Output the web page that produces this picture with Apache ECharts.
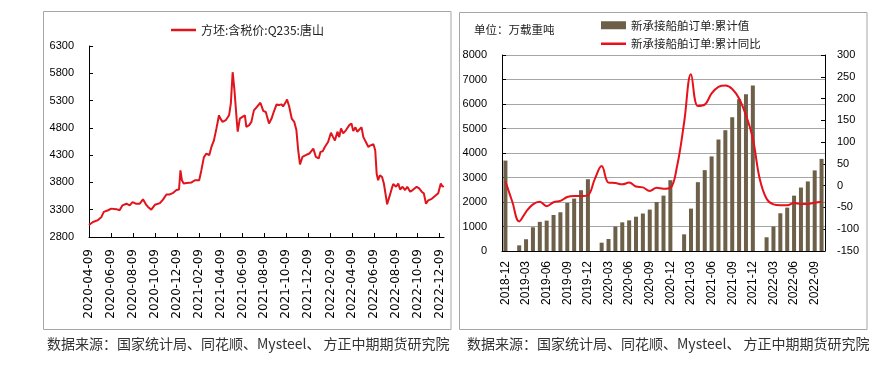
<!DOCTYPE html>
<html><head><meta charset="utf-8">
<script src="https://cdn.jsdelivr.net/npm/echarts@6/dist/echarts.min.js"></script>
<style>html,body{margin:0;padding:0;background:#fff}#c{width:889px;height:370px}</style>
</head><body><div id="c"></div>
<script>
// ---- Left chart: 方坯:含税价:Q235:唐山 ----
const priceName = '方坯:含税价:Q235:唐山';
const priceAxisStart = '2020-04-09';
const priceAxisEnd = '2022-12-21';
const priceDates = ['2020-04-09','2020-04-20','2020-05-04','2020-05-13','2020-05-20','2020-06-01','2020-06-10','2020-06-24','2020-07-03','2020-07-11','2020-07-22','2020-07-31','2020-08-08','2020-08-17','2020-08-28','2020-09-06','2020-09-14','2020-09-20','2020-09-29','2020-10-09','2020-10-23','2020-11-01','2020-11-10','2020-11-19','2020-11-29','2020-12-08','2020-12-15','2020-12-19','2020-12-23','2020-12-28','2021-01-05','2021-01-19','2021-01-28','2021-02-09','2021-02-15','2021-02-22','2021-03-01','2021-03-09','2021-03-15','2021-03-22','2021-03-29','2021-04-05','2021-04-09','2021-04-15','2021-04-24','2021-05-03','2021-05-08','2021-05-13','2021-05-18','2021-05-24','2021-05-27','2021-06-02','2021-06-09','2021-06-16','2021-06-20','2021-06-28','2021-07-04','2021-07-11','2021-07-20','2021-07-29','2021-08-06','2021-08-13','2021-08-22','2021-08-29','2021-09-04','2021-09-12','2021-09-19','2021-09-26','2021-09-30','2021-10-08','2021-10-11','2021-10-17','2021-10-24','2021-10-31','2021-11-06','2021-11-11','2021-11-16','2021-11-23','2021-12-02','2021-12-12','2021-12-23','2021-12-30','2022-01-07','2022-01-12','2022-01-18','2022-01-24','2022-02-02','2022-02-10','2022-02-16','2022-02-21','2022-02-28','2022-03-05','2022-03-10','2022-03-16','2022-03-24','2022-04-02','2022-04-08','2022-04-13','2022-04-19','2022-04-24','2022-04-30','2022-05-06','2022-05-11','2022-05-18','2022-05-25','2022-05-31','2022-06-08','2022-06-13','2022-06-17','2022-06-21','2022-06-26','2022-07-02','2022-07-07','2022-07-13','2022-07-16','2022-07-22','2022-07-29','2022-08-02','2022-08-10','2022-08-16','2022-08-21','2022-08-28','2022-09-04','2022-09-10','2022-09-18','2022-09-25','2022-10-06','2022-10-13','2022-10-20','2022-10-26','2022-11-01','2022-11-07','2022-11-17','2022-11-26','2022-12-05','2022-12-12','2022-12-17','2022-12-20'];
const priceValues = [3020,3075,3110,3160,3260,3290,3320,3310,3290,3380,3410,3380,3440,3410,3410,3490,3400,3350,3300,3390,3420,3490,3580,3580,3610,3660,3670,4020,3840,3780,3790,3800,3840,3840,4020,4260,4330,4300,4450,4570,4790,5030,4970,4910,4940,5030,5250,5820,5490,4970,4730,4970,5000,5030,4820,4850,4910,5120,5190,5260,5110,5090,4880,4970,5090,5230,5220,5230,5190,5280,5320,5190,4970,4910,4760,4390,4130,4270,4300,4330,4420,4270,4240,4360,4370,4450,4540,4710,4630,4570,4730,4630,4790,4700,4760,4850,4880,4740,4810,4730,4770,4810,4630,4540,4450,4480,4500,4390,3960,3840,3930,3900,3780,3530,3400,3530,3690,3770,3720,3780,3670,3720,3660,3720,3630,3660,3720,3690,3630,3600,3410,3470,3500,3550,3600,3780,3720,3740];
const priceYTicks = [2800, 6300, 500]; // min, max, step

// ---- Right chart: 新承接船舶订单 ----
const orderUnit = '单位：万载重吨';
const orderBarName = '新承接船舶订单:累计值';
const orderLineName = '新承接船舶订单:累计同比';
const orderMonths = ['2018-12','2019-01','2019-02','2019-03','2019-04','2019-05','2019-06','2019-07','2019-08','2019-09','2019-10','2019-11','2019-12','2020-01','2020-02','2020-03','2020-04','2020-05','2020-06','2020-07','2020-08','2020-09','2020-10','2020-11','2020-12','2021-01','2021-02','2021-03','2021-04','2021-05','2021-06','2021-07','2021-08','2021-09','2021-10','2021-11','2021-12','2022-01','2022-02','2022-03','2022-04','2022-05','2022-06','2022-07','2022-08','2022-09','2022-10'];
const orderCumulative = [3690,null,230,480,970,1190,1240,1470,1580,1960,2140,2480,2930,null,340,490,1000,1170,1250,1400,1530,1690,2000,2260,2890,null,680,1730,2810,3300,3860,4550,4930,5460,6190,6400,6760,null,560,1000,1540,1770,2260,2590,2840,3290,3760];
const orderYoY = [10,-37,-82,-60,-43,-37,-47,-38,-35,-26,-24,-24,-22,15,45,7,6,3,7,-2,-4,-12,-5,-7,-5,47,145,256,183,186,212,227,230,222,200,162,108,16,-30,-43,-45,-45,-40,-42,-42,-39,-37];
const orderLeftTicks = [0, 8000, 1000];
const orderRightTicks = [-150, 300, 50];

const footer = '数据来源：国家统计局、同花顺、Mysteel、 方正中期期货研究院';

// build calendar-day categories for the left chart
function dayList(a, b) {
  const out = []; let t = Date.UTC(+a.slice(0,4), +a.slice(5,7)-1, +a.slice(8,10));
  const e = Date.UTC(+b.slice(0,4), +b.slice(5,7)-1, +b.slice(8,10));
  while (t <= e) { out.push(new Date(t).toISOString().slice(0,10)); t += 86400000; }
  return out;
}
const allDays = dayList(priceAxisStart, priceAxisEnd);
const dayIndex = {}; allDays.forEach((d,i)=>dayIndex[d]=i);
const priceData = priceDates.map((d,i)=>[dayIndex[d], priceValues[i]]);
const isTickDay = (i, v) => v.slice(8) === '09' && (+v.slice(5,7)) % 2 === 0;
const plain = v => String(v);

const numFont = 'Liberation Sans, Arial, sans-serif';
const cjkFont = 'Noto Sans CJK SC, sans-serif';

const chart = echarts.init(document.getElementById('c'), null, {renderer: 'canvas'});
chart.setOption({
  animation: false,
  backgroundColor: '#fff',
  grid: [
    {left: 89, top: 46, right: 445, bottom: 133, containLabel: false},
    {left: 502, top: 55, right: 64, bottom: 119, containLabel: false}
  ],
  legend: [
    {data: [{name: priceName, icon: 'rect'}], left: 171, top: 24, padding: 0, itemWidth: 25, itemHeight: 2.5,
     textStyle: {fontSize: 12, fontFamily: cjkFont, color: '#222'}},
    {data: [{name: orderBarName, icon: 'rect'}], left: 601, top: 19.5, padding: 0, itemWidth: 25, itemHeight: 8,
     textStyle: {fontSize: 11.5, fontFamily: cjkFont, color: '#222'}},
    {data: [{name: orderLineName, icon: 'rect'}], left: 601, top: 38, padding: 0, itemWidth: 25, itemHeight: 2.5,
     textStyle: {fontSize: 11.5, fontFamily: cjkFont, color: '#222'}}
  ],
  xAxis: [
    {type: 'category', gridIndex: 0, data: allDays, boundaryGap: false,
     axisLine: {lineStyle: {color: '#000', width: 1}},
     axisTick: {inside: true, length: 4, interval: isTickDay, lineStyle: {color: '#000'}},
     axisLabel: {interval: isTickDay, rotate: 90, margin: 12, fontSize: 12, fontFamily: 'DejaVu Sans, sans-serif', color: '#000'},
     splitLine: {show: false}},
    {type: 'category', gridIndex: 1, data: orderMonths, boundaryGap: true,
     axisLine: {lineStyle: {color: '#000', width: 1}},
     axisTick: {inside: true, length: 4, interval: 2, lineStyle: {color: '#555'}},
     axisLabel: {interval: 2, rotate: 90, margin: 10, fontSize: 12, fontFamily: numFont, color: '#000'},
     splitLine: {show: false}}
  ],
  yAxis: [
    {type: 'value', gridIndex: 0, min: priceYTicks[0], max: priceYTicks[1], interval: priceYTicks[2],
     axisLine: {show: true, lineStyle: {color: '#000'}},
     axisTick: {show: true, inside: true, length: 4, lineStyle: {color: '#000'}},
     axisLabel: {fontSize: 11, margin: 15, fontFamily: numFont, color: '#000', formatter: plain},
     splitLine: {show: false}},
    {type: 'value', gridIndex: 1, min: orderLeftTicks[0], max: orderLeftTicks[1], interval: orderLeftTicks[2],
     axisLine: {show: true, lineStyle: {color: '#000'}},
     axisTick: {show: true, inside: true, length: 4, lineStyle: {color: '#000'}},
     axisLabel: {fontSize: 11, margin: 15, fontFamily: numFont, color: '#000', formatter: plain},
     splitLine: {show: true, lineStyle: {color: '#a6a6a6', width: 1}}},
    {type: 'value', gridIndex: 1, position: 'right', min: orderRightTicks[0], max: orderRightTicks[1], interval: orderRightTicks[2],
     axisLine: {show: true, lineStyle: {color: '#000'}},
     axisTick: {show: true, inside: true, length: 4, lineStyle: {color: '#000'}},
     axisLabel: {fontSize: 11, margin: 12, fontFamily: numFont, color: '#000', formatter: plain},
     splitLine: {show: false}}
  ],
  series: [
    {name: priceName, type: 'line', xAxisIndex: 0, yAxisIndex: 0, data: priceData,
     symbol: 'none', lineStyle: {color: '#e1141c', width: 2}, itemStyle: {color: '#e1141c'}},
    {name: orderBarName, type: 'bar', xAxisIndex: 1, yAxisIndex: 1, data: orderCumulative,
     barWidth: 4, itemStyle: {color: '#6d5f48'}},
    {name: orderLineName, type: 'line', xAxisIndex: 1, yAxisIndex: 2, data: orderYoY, smooth: 0.4,
     symbol: 'none', lineStyle: {color: '#e8101a', width: 2}, itemStyle: {color: '#e8101a'}}
  ],
  graphic: [
    {type: 'rect', shape: {x: 43.5, y: 11.5, width: 407.5, height: 318}, style: {fill: 'none', stroke: '#a6a6a6', lineWidth: 1}, silent: true},
    {type: 'rect', shape: {x: 459.5, y: 12.5, width: 407.5, height: 317}, style: {fill: 'none', stroke: '#a6a6a6', lineWidth: 1}, silent: true},
    {type: 'text', left: 474, top: 24, style: {text: orderUnit, fontSize: 11.5, fontFamily: cjkFont, fill: '#222'}},
    {type: 'text', left: 47, top: 337, style: {text: footer, fontSize: 14, fontFamily: cjkFont, fill: '#333'}},
    {type: 'text', left: 467, top: 337, style: {text: footer, fontSize: 14, fontFamily: cjkFont, fill: '#333'}}
  ]
});
</script></body></html>
